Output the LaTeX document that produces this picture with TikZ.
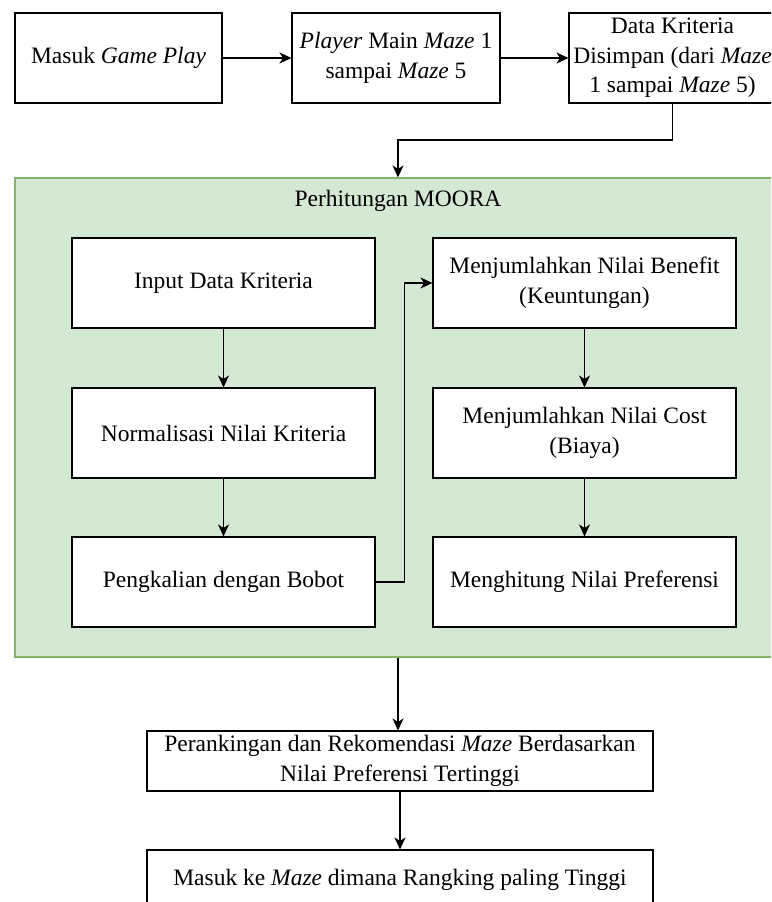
\documentclass[tikz,border=0pt]{standalone}
\usepackage{fontspec}
\setmainfont{Liberation Serif}
\usetikzlibrary{arrows.meta}
\definecolor{mfill}{HTML}{D5E8D4}
\definecolor{mdraw}{HTML}{82B366}
\begin{document}
\begin{tikzpicture}[x=1pt,y=-1pt,
  box/.style={draw=black, fill=white, line width=1.1pt, align=center,
    font=\fontsize{23.5}{29.5}\selectfont, inner sep=0pt},
  arr/.style={-{Stealth[length=12pt,width=11pt,inset=3.5pt]}, line width=1.1pt},
  lbl/.style={font=\fontsize{23.5}{29.5}\selectfont, inner sep=0pt}]
\useasboundingbox (0,0) rectangle (771,902);
\clip (0,0) rectangle (771,902);
% top row
\node[box, minimum width=207pt, minimum height=90pt] (a1) at (118.5,58) {Masuk \textit{Game Play}};
\node[box, minimum width=208pt, minimum height=90pt] (a2) at (396,58) {\textit{Player} Main \textit{Maze} 1\\sampai \textit{Maze} 5};
\node[box, minimum width=207pt, minimum height=90pt] (a3) at (672.5,58) {Data Kriteria\\Disimpan (dari \textit{Maze}\\1 sampai \textit{Maze} 5)};
% container
\node[draw=mdraw, fill=mfill, line width=1.1pt, minimum width=766pt, minimum height=479pt, inner sep=0pt] (moora) at (398,417.5) {};
\node[lbl] (title) at (398,201) {Perhitungan MOORA};
% left column
\node[box, minimum width=303pt, minimum height=90pt] (b1) at (223.5,283) {Input Data Kriteria};
\node[box, minimum width=303pt, minimum height=90pt] (b2) at (223.5,433) {Normalisasi Nilai Kriteria};
\node[box, minimum width=303pt, minimum height=90pt] (b3) at (223.5,582) {Pengkalian dengan Bobot};
% right column
\node[box, minimum width=303pt, minimum height=90pt] (c1) at (584.5,283) {Menjumlahkan Nilai Benefit\\(Keuntungan)};
\node[box, minimum width=303pt, minimum height=90pt] (c2) at (584.5,433) {Menjumlahkan Nilai Cost\\(Biaya)};
\node[box, minimum width=303pt, minimum height=90pt] (c3) at (584.5,582) {Menghitung Nilai Preferensi};
% bottom
\node[box, minimum width=506pt, minimum height=60pt] (d1) at (400,761) {Perankingan dan Rekomendasi \textit{Maze} Berdasarkan\\Nilai Preferensi Tertinggi};
\node[box, minimum width=506pt, minimum height=60pt] (d2) at (400,880) {Masuk ke \textit{Maze} dimana Rangking paling Tinggi};
% connectors
\draw[arr] (a1) -- (a2);
\draw[arr] (a2) -- (a3);
\coordinate (m1) at (398,140);
\draw[arr] (a3.south) |- (m1) -- (moora.north);
\draw[arr] (b1) -- (b2);
\draw[arr] (b2) -- (b3);
\draw[arr] (b3.east) -- ++(29,0) |- (c1.west);
\draw[arr] (c1) -- (c2);
\draw[arr] (c2) -- (c3);
\draw[arr] (moora.south) -- (moora.south |- d1.north);
\draw[arr] (d1.south) -- (d1.south |- d2.north);
\end{tikzpicture}
\end{document}
